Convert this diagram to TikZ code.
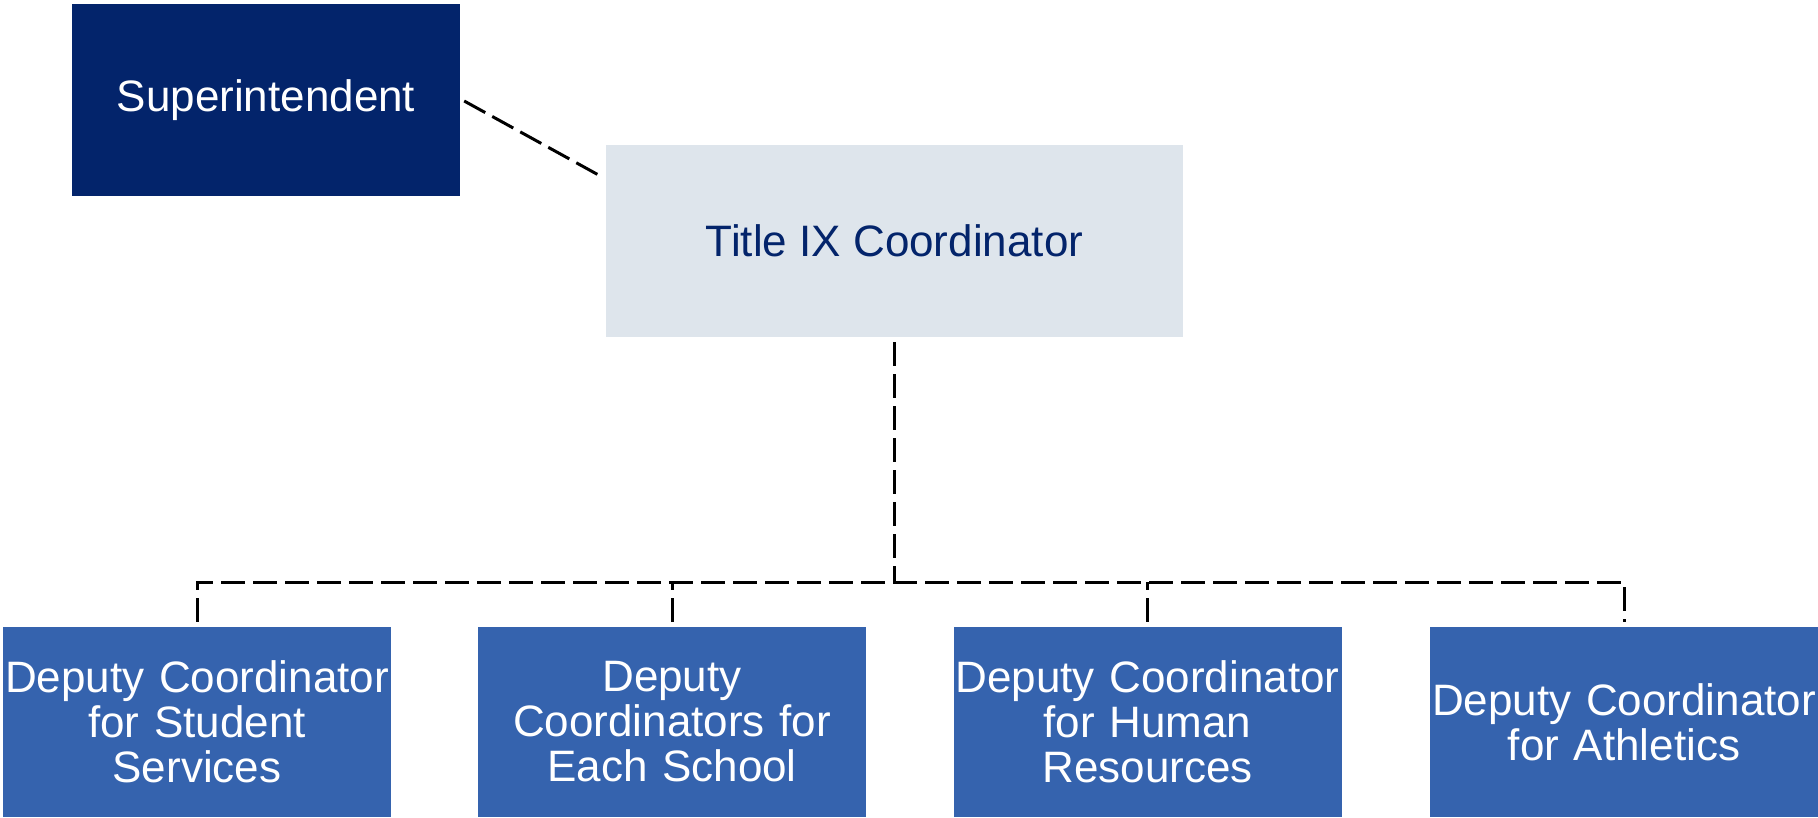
\documentclass[tikz,border=0pt]{standalone}
\usepackage{fontspec}
\setmainfont{Liberation Sans}
\usetikzlibrary{calc}
\definecolor{navy}{HTML}{03246B}
\definecolor{paleblue}{HTML}{DEE5EC}
\definecolor{midblue}{HTML}{3563AE}
\begin{document}
\begin{tikzpicture}[x=1pt,y=-1pt,
  box/.style={inner sep=0pt, align=center, font=\fontsize{44}{45}\selectfont},
  topbox/.style={box, fill=navy, text=white, minimum width=388pt, minimum height=192pt},
  titlebox/.style={box, fill=paleblue, text=navy, minimum width=577pt, minimum height=192pt},
  deputybox/.style={box, fill=midblue, text=white, minimum width=388pt, minimum height=190pt, text width=388pt},
  conn/.style={line width=3pt, dash pattern=on 24pt off 8pt, draw=black}]
\useasboundingbox (0,0) rectangle (1818,817);
\node[topbox] (sup) at (266,100) {Superintendent};
\node[titlebox] (tix) at (894.5,241) {Title IX Coordinator};
\node[deputybox] (b1) at (197,722) {Deputy Coordinator\\for Student\\Services};
\node[deputybox] (b2) at (672,722) {Deputy\\Coordinators for\\Each School};
\node[deputybox] (b3) at (1147.5,722) {Deputy Coordinator\\for Human\\Resources};
\node[deputybox] (b4) at (1624,722) {Deputy Coordinator\\for Athletics};
\coordinate (s1) at ($(sup.east)+(4,1)$);
\coordinate (s2) at ($(tix.north west)+(-4,32)$);
\draw[conn] (s1) -- (s2);
\coordinate (tb) at ($(tix.south)+(0,5)$);
\coordinate (j) at (894.5,582);
\coordinate (d1) at ($(b1.north)+(0,-5)$);
\coordinate (d2) at ($(b2.north)+(0,-5)$);
\coordinate (d3) at ($(b3.north)+(0,-5)$);
\coordinate (d4) at ($(b4.north)+(0,-5)$);
\draw[conn] (tb) -- (j);
\draw[conn] (d1) -- (d1 |- j) -- (d4 |- j) -- (d4);
\draw[conn] (d2) -- (d2 |- j);
\draw[conn] (d3) -- (d3 |- j);
\end{tikzpicture}
\end{document}
